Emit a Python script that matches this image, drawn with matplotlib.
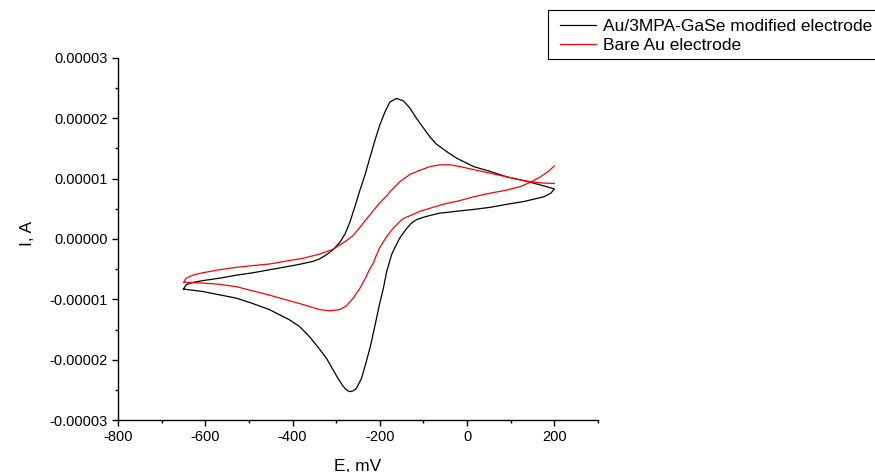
"""
Voltammogrammes cycliques — électrode Au/3MPA-GaSe vs Au nue
"""

import matplotlib
matplotlib.use("Agg")
import matplotlib.pyplot as plt
from matplotlib.patches import Rectangle
from matplotlib.ticker import MultipleLocator, FormatStrFormatter

# ── DONNÉES (lues sur la figure, I en 1e-5 A) ──────────────────────────────
# électrode modifiée : aller (-650 → 200 mV)
e_mod_fwd = [-650, -644, -629, -606, -568, -529, -491, -453, -414, -384, -353,
             -338, -322, -307, -292, -280, -269, -257, -246, -234, -223, -211,
             -200, -188, -177, -162, -146, -131, -116, -100, -85, -70, -47,
             -24, 15, 53, 91, 122, 145, 176, 200]
i_mod_fwd = [-0.83, -0.76, -0.72, -0.69, -0.65, -0.60, -0.56, -0.51, -0.46,
             -0.42, -0.37, -0.33, -0.26, -0.175, -0.06, 0.08, 0.27, 0.54,
             0.80, 1.06, 1.34, 1.64, 1.89, 2.11, 2.27, 2.33, 2.29, 2.17, 2.00,
             1.84, 1.69, 1.57, 1.45, 1.34, 1.20, 1.12, 1.03, 0.98, 0.94, 0.88,
             0.83]
# électrode modifiée : retour (200 → -650 mV)
e_mod_rev = [200, 192, 176, 153, 129, 91, 53, 15, -24, -47, -62, -85, -100,
             -116, -128, -139, -154, -168, -173, -184, -192, -201, -211, -221,
             -232, -242, -254, -262, -269, -277, -284, -296, -307, -322, -342,
             -361, -384, -407, -453, -491, -529, -606, -650]
i_mod_rev = [0.83, 0.76, 0.70, 0.66, 0.62, 0.575, 0.525, 0.49, 0.46, 0.44,
             0.43, 0.39, 0.36, 0.32, 0.26, 0.17, 0.02, -0.18, -0.26, -0.53,
             -0.82, -1.09, -1.43, -1.76, -2.06, -2.31, -2.48, -2.52, -2.53,
             -2.50, -2.44, -2.31, -2.17, -1.98, -1.79, -1.62, -1.45, -1.34,
             -1.17, -1.07, -0.98, -0.87, -0.83]

# électrode nue : branche basse (200 → -650 mV)
e_bare_low = [200, 184, 168, 145, 122, 91, 53, 15, -20, -47, -62, -85, -108,
              -123, -146, -154, -169, -177, -188, -200, -208, -215, -224, -231,
              -246, -261, -277, -292, -315, -338, -361, -384, -414, -453, -491,
              -529, -568, -606, -637, -650]
i_bare_low = [1.21, 1.11, 1.03, 0.94, 0.87, 0.81, 0.76, 0.70, 0.63, 0.59,
              0.56, 0.51, 0.46, 0.41, 0.34, 0.29, 0.18, 0.11, 0.0, -0.14,
              -0.27, -0.40, -0.51, -0.62, -0.82, -0.98, -1.11, -1.17, -1.19,
              -1.17, -1.12, -1.07, -1.01, -0.93, -0.86, -0.79, -0.75, -0.73,
              -0.72, -0.72]
# électrode nue : branche haute (-650 → 200 mV)
e_bare_up = [-650, -644, -629, -606, -568, -529, -491, -453, -414, -376, -338,
             -307, -292, -277, -261, -246, -223, -200, -185, -177, -154, -131,
             -108, -85, -62, -39, -16, 15, 53, 91, 122, 145, 168, 200]
i_bare_up = [-0.72, -0.65, -0.60, -0.56, -0.51, -0.47, -0.44, -0.415, -0.365,
             -0.32, -0.25, -0.17, -0.10, -0.03, 0.06, 0.19, 0.40, 0.60, 0.71,
             0.78, 0.95, 1.07, 1.14, 1.20, 1.23, 1.23, 1.20, 1.15, 1.09, 1.03,
             0.98, 0.95, 0.93, 0.92]

labels = ["Au/3MPA-GaSe modified electrode", "Bare Au electrode"]
y_ticks = [-0.00003, -0.00002, -0.00001, 0.0, 0.00001, 0.00002, 0.00003]
x_ticks = [-800, -600, -400, -200, 0, 200]

# ── FIGURE ──────────────────────────────────────────────────────────────────
plt.rcParams["font.family"] = ["Liberation Sans", "DejaVu Sans"]
plt.rcParams["axes.unicode_minus"] = False

W, H = 875, 472
fig = plt.figure(figsize=(W / 100, H / 100), dpi=100, facecolor="white")
ax = fig.add_axes([118 / W, 1 - 420 / H, 480 / W, 362 / H])

scale = 1e-5
e_mod = e_mod_fwd + e_mod_rev
i_mod = [v * scale for v in i_mod_fwd + i_mod_rev]
e_bare = e_bare_low + e_bare_up
i_bare = [v * scale for v in i_bare_low + i_bare_up]

l1, = ax.plot(e_mod, i_mod, color="black", lw=0.9)
l2, = ax.plot(e_bare, i_bare, color="red", lw=0.9)

ax.set_xlim(-800, 300)
ax.set_ylim(-3e-5, 3e-5)
ax.set_xticks(x_ticks)
ax.set_yticks(y_ticks)
ax.xaxis.set_minor_locator(MultipleLocator(100))
ax.yaxis.set_minor_locator(MultipleLocator(0.5e-5))
ax.yaxis.set_major_formatter(FormatStrFormatter("%.5f"))

for sp in ("top", "right"):
    ax.spines[sp].set_visible(False)
for sp in ("left", "bottom"):
    ax.spines[sp].set_linewidth(1.0)

ax.tick_params(which="major", direction="out", length=4.5, width=1.0,
               labelsize=10.5, pad=3)
ax.tick_params(which="minor", direction="out", length=2.5, width=1.0)

ax.set_xlabel("E, mV", fontsize=12.5)
ax.set_ylabel("I, A", fontsize=12.5)
ax.xaxis.set_label_coords(0.5, -0.107)
ax.yaxis.set_label_coords(-0.173, 0.515)

# légende : cadre dessiné à part (il sort du bord droit comme l'original)
fig.patches.append(Rectangle((548 / W, 1 - 59 / H), 340 / W, 49 / H,
                             transform=fig.transFigure, fill=False,
                             ec="black", lw=0.8))
fig.legend([l1, l2], labels, loc="upper left",
           bbox_to_anchor=(560 / W, 1 - 19 / H), borderaxespad=0,
           borderpad=0, fontsize=12.5, frameon=False, handlelength=2.1,
           handletextpad=0.35, labelspacing=0.2)

fig.savefig("out.png", dpi=100, facecolor=fig.get_facecolor())
plt.close(fig)
